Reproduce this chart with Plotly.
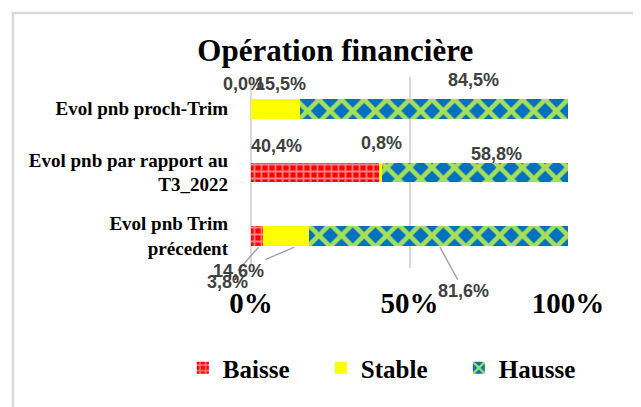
import plotly.graph_objects as go

categories = ["Evol pnb Trim<br>précedent", "Evol pnb par rapport au<br>T3_2022", "Evol pnb proch-Trim"]
baisse = [3.8, 40.4, 0.0]
stable = [14.6, 0.8, 15.5]
hausse = [81.6, 58.8, 84.5]
tick_vals = [0, 50, 100]
tick_text = ["0%", "50%", "100%"]

def fmt(v):
    return f"{v:.1f}".replace(".", ",") + "%"

serif = "Liberation Serif"
fig = go.Figure()
fig.add_trace(go.Bar(y=categories, x=baisse, orientation="h", name="Baisse",
                     marker=dict(color="#FF0000", line=dict(width=0),
                                 pattern=dict(shape="+", fgcolor="white", bgcolor="#FF0000", size=7, solidity=0.45))))
fig.add_trace(go.Bar(y=categories, x=stable, orientation="h", name="Stable",
                     marker=dict(color="#FFFF00", line=dict(width=0))))
fig.add_trace(go.Bar(y=categories, x=hausse, orientation="h", name="Hausse",
                     marker=dict(color="#0070C0", line=dict(width=0),
                                 pattern=dict(shape="x", fgcolor="#A6E05A", bgcolor="#0070C0", fgopacity=1,
                                              size=16, solidity=0.5))))

lab_font = dict(family="Liberation Sans", size=18, color="#404040")
ann = []
ci = 2
ann.append(dict(x=baisse[ci], y=categories[ci], text=fmt(baisse[ci]), xshift=-8, yshift=25, showarrow=False))
ann.append(dict(x=baisse[ci] + stable[ci] / 2 + 1.4, y=categories[ci], text=fmt(stable[ci]), yshift=25, showarrow=False))
ann.append(dict(x=baisse[ci] + stable[ci] + hausse[ci] / 2 + 12.3, y=categories[ci], text=fmt(hausse[ci]), yshift=29, showarrow=False))
ci = 1
ann.append(dict(x=baisse[ci] / 2 - 12.2, y=categories[ci], text=fmt(baisse[ci]), yshift=27, showarrow=False))
ann.append(dict(x=baisse[ci] + stable[ci] / 2 + 0.5, y=categories[ci], text=fmt(stable[ci]), yshift=30, showarrow=False))
ann.append(dict(x=baisse[ci] + stable[ci] + hausse[ci] / 2 + 6.8, y=categories[ci], text=fmt(hausse[ci]), yshift=19, showarrow=False))
ci = 0
ann.append(dict(x=baisse[ci] / 2 + 0.5, y=categories[ci], text=fmt(baisse[ci]), showarrow=True,
                ax=-31, ay=35, arrowhead=0, arrowcolor="#A6A6A6", arrowwidth=1.5, yshift=-11))
ann.append(dict(x=baisse[ci] + stable[ci] / 2 + 2.6, y=categories[ci], text=fmt(stable[ci]), showarrow=True,
                ax=-56, ay=24, arrowhead=0, arrowcolor="#A6A6A6", arrowwidth=1.5, yshift=-11))
ann.append(dict(x=baisse[ci] + stable[ci] + hausse[ci] / 2 + 0.4, y=categories[ci], text=fmt(hausse[ci]), showarrow=True,
                ax=24, ay=44, arrowhead=0, arrowcolor="#A6A6A6", arrowwidth=1.5, yshift=-11))
for a in ann:
    a["font"] = lab_font
    a["text"] = "<b>" + a["text"] + "</b>"
    fig.add_annotation(**a)

fig.add_shape(type="rect", xref="paper", yref="paper", x0=-0.751, x1=1.3, y0=-0.8, y1=1.335,
              line=dict(color="#D9D9D9", width=2.5))

fig.update_layout(
    width=633, height=399,
    barmode="stack", bargap=0.69,
    paper_bgcolor="white", plot_bgcolor="white",
    margin=dict(l=243, r=73, t=69, b=139),
    title=dict(text="<b>Opération financière</b>", x=0.517, xanchor="center", y=0.895, yanchor="middle",
               font=dict(family=serif, size=31, color="black")),
    xaxis=dict(range=[0, 100], tickvals=tick_vals, ticktext=tick_text, showgrid=True,
               gridcolor="#D9D9D9", gridwidth=2, zeroline=True, zerolinecolor="#D9D9D9", zerolinewidth=2,
               showline=False, ticks="", automargin=False,
               tickfont=dict(family=serif, size=29, color="black", weight="bold"), ticklabelstandoff=15),
    yaxis=dict(range=[-0.5, 2.5], autorange=False, showgrid=False, zeroline=False, showline=False, ticks="",
               automargin=False,
               tickfont=dict(family=serif, size=19, color="black", weight="bold"), ticklabelstandoff=22),
    legend=dict(orientation="h", xref="paper", yref="paper", x=-0.215, xanchor="left",
                y=-0.524, yanchor="middle", entrywidth=93,
                font=dict(family=serif, size=25, color="black", weight="bold"), traceorder="normal",
                itemwidth=30),
    showlegend=True,
)
fig.write_html("out.html")
